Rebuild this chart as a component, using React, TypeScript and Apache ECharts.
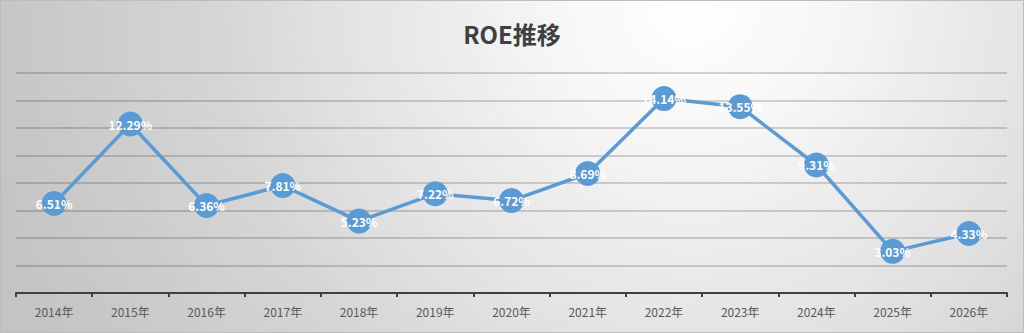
import React, { useEffect, useRef } from "react";
import * as echarts from "echarts";

const categories = ["2014年", "2015年", "2016年", "2017年", "2018年", "2019年", "2020年", "2021年", "2022年", "2023年", "2024年", "2025年", "2026年"];
const roeValues = [6.51, 12.29, 6.36, 7.81, 5.23, 7.22, 6.72, 8.69, 14.14, 13.55, 9.31, 3.03, 4.33];
const chartTitle = "ROE推移";

export default function App() {
  const ref = useRef<HTMLDivElement>(null);
  useEffect(() => {
    if (!ref.current) return;
    const chart = echarts.init(ref.current, null, { renderer: "svg" });
    chart.setOption({
      animation: false,
      backgroundColor: "#e0e0e0",
      title: {
        text: chartTitle,
        left: "center",
        top: 16,
        textStyle: {
          fontFamily: "Noto Sans CJK JP",
          fontSize: 24,
          fontWeight: "bold",
          color: "#404040",
        },
      },
      graphic: [
        {
          type: "rect",
          z: -100,
          zlevel: 0,
          silent: true,
          shape: { x: 0, y: 0, width: 1024, height: 333 },
          style: {
            fill: new echarts.graphic.RadialGradient(690, 0, 720, [
              { offset: 0, color: "#ffffff" },
              { offset: 0.2, color: "#f6f6f6" },
              { offset: 0.52, color: "#e0e0e0" },
              { offset: 0.65, color: "#d6d6d6" },
              { offset: 1, color: "#c4c4c4" },
            ], true),
          },
        },
        {
          type: "rect",
          silent: true,
          shape: { x: 0.5, y: 0.5, width: 1023, height: 332 },
          style: { fill: "none", stroke: "#bdbdbd", lineWidth: 1 },
        },
      ],
      grid: { left: 16, right: 17, top: 73, bottom: 40 },
      xAxis: {
        type: "category",
        data: categories,
        boundaryGap: true,
        axisLine: { lineStyle: { color: "#404040", width: 2 } },
        axisTick: { show: true, length: 4, lineStyle: { color: "#404040", width: 2 } },
        axisLabel: {
          color: "#595959",
          fontSize: 12,
          fontFamily: "Noto Sans CJK JP",
          margin: 12,
        },
      },
      yAxis: {
        type: "value",
        min: 0,
        max: 16,
        interval: 2,
        axisLabel: { show: false },
        axisLine: { show: false },
        axisTick: { show: false },
        splitLine: { lineStyle: { color: "rgba(0,0,0,0.22)", width: 1.5 } },
      },
      series: [
        {
          type: "line",
          data: roeValues,
          symbol: "circle",
          symbolSize: 25,
          lineStyle: { color: "#5b9bd5", width: 3.5 },
          itemStyle: { color: "#5b9bd5" },
          label: {
            show: true,
            position: "inside",
            formatter: (p: any) => p.value.toFixed(2) + "%",
            color: "#ffffff",
            fontSize: 12,
            fontWeight: "bold",
            fontFamily: "Noto Sans CJK JP",
          },
        },
      ],
    });
    return () => chart.dispose();
  }, []);
  return <div ref={ref} style={{ position: "fixed", left: 0, top: 0, width: 1024, height: 333 }} />;
}
